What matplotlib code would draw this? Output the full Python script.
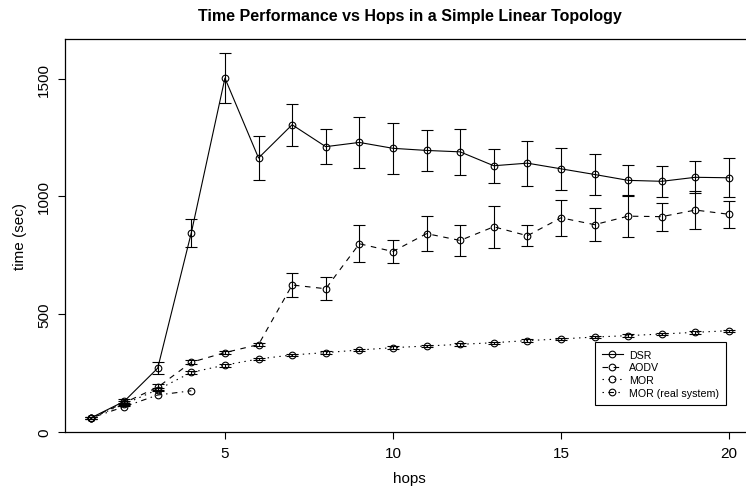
import matplotlib
matplotlib.use("Agg")
import matplotlib.pyplot as plt
from matplotlib.lines import Line2D

plt.rcParams["font.family"] = ["Liberation Sans", "DejaVu Sans"]

# values (hops 1..20)
hops = list(range(1, 21))
dsr = [59, 130, 271, 846, 1502, 1163, 1304, 1211, 1229, 1204,
       1195, 1189, 1130, 1141, 1117, 1093, 1068, 1064, 1081, 1079]
dsr_err = [4, 10, 24, 60, 106, 92, 90, 75, 107, 108,
           87, 98, 72, 96, 88, 87, 64, 67, 68, 82]
aodv = [59, 124, 190, 296, 337, 371, 624, 608, 799, 766,
        842, 813, 871, 833, 909, 880, 916, 914, 942, 924]
aodv_err = [4, 8, 12, 8, 8, 8, 50, 48, 79, 48,
            73, 67, 88, 44, 77, 71, 87, 60, 79, 57]
mor = [59, 118, 180, 253, 284, 310, 327, 337, 348, 358,
       365, 372, 379, 388, 395, 403, 409, 416, 423, 430]
mor_err = [4, 6, 8, 6, 6, 6, 6, 5, 5, 5,
           5, 5, 5, 5, 5, 5, 5, 5, 5, 5]
real_hops = [1, 2, 3, 4]
mor_real = [59, 107, 157, 175]

labels = ["DSR", "AODV", "MOR", "MOR (real system)"]
styles = ["-", (0, (5, 5)), (0, (1.3, 4)), (0, (1.3, 4, 5, 4))]

LW = 0.8
fig = plt.figure(figsize=(7.46, 4.89), dpi=100)
ax = fig.add_axes([0.0871, 0.1145, 0.9243, 0.8047])

series = [(hops, dsr, dsr_err), (hops, aodv, aodv_err),
          (hops, mor, mor_err), (real_hops, mor_real, None)]
handles = []
for (x, y, err), ls, lbl in zip(series, styles, labels):
    if err is not None:
        ax.errorbar(x, y, yerr=err, fmt="none", ecolor="black",
                    elinewidth=LW, capsize=4.3, capthick=LW, zorder=2)
    ax.plot(x, y, color="black", linestyle=ls, linewidth=LW,
            marker="o", markersize=4.8, markerfacecolor="none",
            markeredgewidth=0.8, markeredgecolor="black", zorder=3)
    handles.append(Line2D([], [], color="black", linestyle=ls, linewidth=LW,
                          marker="o", markersize=4.8, markerfacecolor="none",
                          markeredgewidth=0.8))

ax.set_xlim(0.24, 20.76)
ax.set_ylim(0, 1670)
ax.set_xticks([5, 10, 15, 20])
ax.set_yticks([0, 500, 1000, 1500])
ax.tick_params(axis="both", length=5, width=0.8, labelsize=11, pad=5)
ax.tick_params(axis="y", labelrotation=90)
for t in ax.get_yticklabels():
    t.set_va("center")
for s in ax.spines.values():
    s.set_linewidth(0.9)

ax.set_xlabel("hops", fontsize=11, labelpad=8)
ax.set_ylabel("time (sec)", fontsize=11, labelpad=7)
ax.set_title("Time Performance vs Hops in a Simple Linear Topology",
             fontsize=11.5, fontweight="bold", pad=13)

leg = fig.legend(handles, labels, loc="upper left",
                 bbox_to_anchor=(0.7972, 0.298), fontsize=7.7,
                 frameon=True, fancybox=False, framealpha=1,
                 edgecolor="black", borderpad=0.7, labelspacing=0.25,
                 handlelength=1.9, handletextpad=0.6, borderaxespad=0)
leg.get_frame().set_linewidth(0.8)

fig.savefig("out.png", dpi=100)
